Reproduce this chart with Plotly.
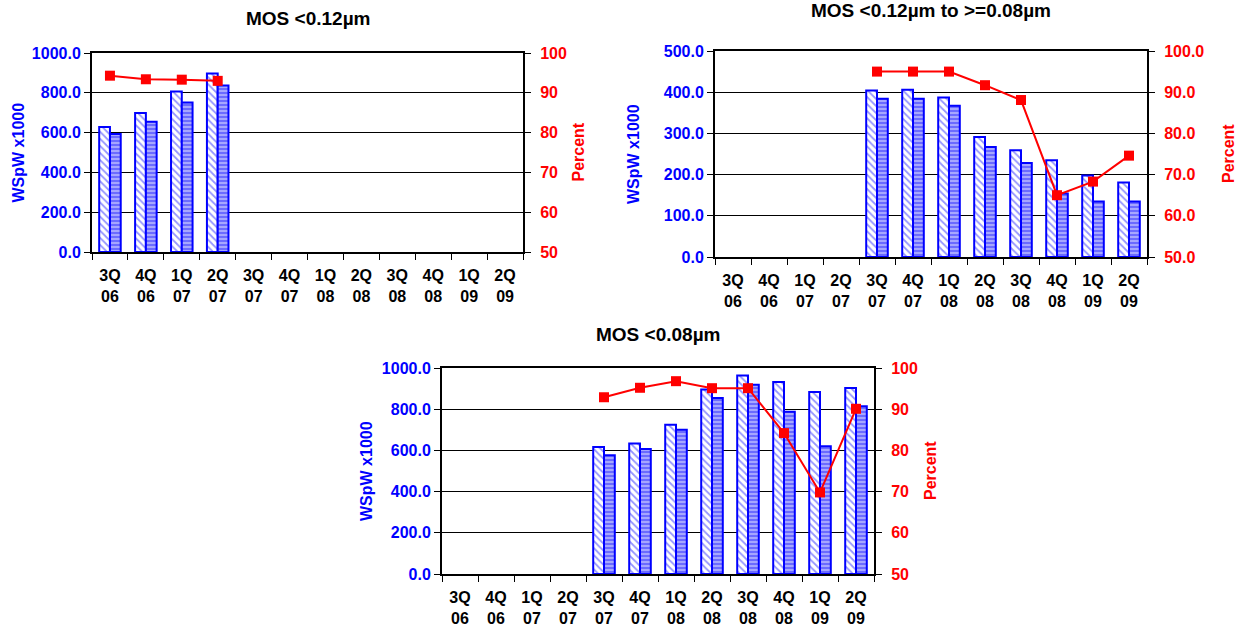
import plotly.graph_objects as go

W, H = 1243, 627

categories = ["3Q<br>06", "4Q<br>06", "1Q<br>07", "2Q<br>07", "3Q<br>07", "4Q<br>07",
              "1Q<br>08", "2Q<br>08", "3Q<br>08", "4Q<br>08", "1Q<br>09", "2Q<br>09"]

# Chart 1: MOS <0.12um
c1_capacity = [628, 699, 807, 897, None, None, None, None, None, None, None, None]
c1_starts = [593, 654, 751, 837, None, None, None, None, None, None, None, None]
c1_util = [94.3, 93.4, 93.3, 93.0, None, None, None, None, None, None, None, None]

# Chart 2: MOS <0.12um to >=0.08um
c2_capacity = [None, None, None, None, 404, 406, 387, 291, 259, 235, 198, 181]
c2_starts = [None, None, None, None, 384, 384, 367, 267, 228, 154, 135, 135]
c2_util = [None, None, None, None, 95.0, 95.0, 95.0, 91.7, 88.1, 65.0, 68.3, 74.6]

# Chart 3: MOS <0.08um
c3_capacity = [None, None, None, None, 616, 634, 725, 896, 964, 932, 884, 903]
c3_starts = [None, None, None, None, 576, 607, 700, 854, 919, 788, 620, 814]
c3_util = [None, None, None, None, 92.9, 95.2, 96.8, 95.1, 95.1, 84.2, 69.8, 90.1]

titles = ["MOS <0.12µm", "MOS <0.12µm to >=0.08µm", "MOS <0.08µm"]

FONT = "Liberation Sans, Arial, sans-serif"
BLUE = "#0000ff"
RED = "#ff0000"

# plot boxes in pixels: (left, right, top, bottom)
boxes = [(92, 523, 53, 252), (715, 1147, 51, 257), (442, 874, 368, 574)]
left_ranges = [(0, 1000, 200, ".1f"), (0, 500, 100, ".1f"), (0, 1000, 200, ".1f")]
right_fmt = ["d", ".1f", "d"]
title_y = [18, 10, 334]
ylab_x = [18, 633, 366]
plab_x = [578, 1228, 930]

data_sets = [(c1_capacity, c1_starts, c1_util),
             (c2_capacity, c2_starts, c2_util),
             (c3_capacity, c3_starts, c3_util)]

fig = go.Figure()
layout = dict(width=W, height=H, margin=dict(l=0, r=0, t=0, b=0, autoexpand=False),
              paper_bgcolor="white", plot_bgcolor="white", showlegend=False,
              barmode="group", bargap=0.4, bargroupgap=0.0,
              font=dict(family=FONT, size=16, color="black", weight="bold"),
              annotations=[])

for i, (cap, st, ut) in enumerate(data_sets):
    n = i + 1
    xa = "x" if n == 1 else f"x{n}"
    ya = f"y{2*n-1}" if n > 1 else "y"
    yb = f"y{2*n}"
    fig.add_trace(go.Bar(x=categories, y=cap, xaxis=xa, yaxis=ya, offsetgroup="a",
                         marker=dict(color="white", line=dict(color=BLUE, width=2),
                                     pattern=dict(shape="\\", fgcolor="#2a2aff", bgcolor="white",
                                                  size=5, solidity=0.35))))
    fig.add_trace(go.Bar(x=categories, y=st, xaxis=xa, yaxis=ya, offsetgroup="b",
                         marker=dict(color="#7f7fff", line=dict(color=BLUE, width=2),
                                     pattern=dict(shape="-", fgcolor="white", bgcolor="#6b6bff",
                                                  size=4, solidity=0.4))))
    fig.add_trace(go.Scatter(x=categories, y=ut, xaxis=xa, yaxis=yb, mode="lines+markers",
                             line=dict(color=RED, width=2),
                             marker=dict(symbol="square", size=10, color=RED),
                             connectgaps=False))
    l, r, t, b = boxes[i]
    lo, hi, dt, fmt = left_ranges[i]
    xkey = "xaxis" if n == 1 else f"xaxis{n}"
    ykey = "yaxis" if n == 1 else f"yaxis{2*n-1}"
    ykey2 = f"yaxis{2*n}"
    layout[xkey] = dict(domain=[l / W, r / W], anchor=ya, type="category",
                        range=[-0.5, len(categories) - 0.5],
                        showline=True, linecolor="black", linewidth=2, mirror=True,
                        ticks="outside", tickson="boundaries", ticklen=6, tickcolor="black",
                        tickwidth=1, showgrid=False, ticklabelstandoff=8,
                        tickfont=dict(family=FONT, size=16, color="black", weight="bold"))
    layout[ykey] = dict(domain=[1 - b / H, 1 - t / H], anchor=xa, range=[lo, hi], dtick=dt,
                        tickformat=fmt, showline=True, linecolor="black", linewidth=2,
                        ticks="outside", ticklen=6, tickcolor="black",
                        showgrid=True, gridcolor="black", gridwidth=1, zeroline=False,
                        tickfont=dict(family=FONT, size=16, color=BLUE, weight="bold"))
    layout[ykey2] = dict(overlaying=ya, side="right", anchor=xa, range=[50, 100], dtick=10,
                         tickformat=right_fmt[i], showline=True, linecolor="black", linewidth=2,
                         ticks="outside", ticklen=6, tickcolor="black", showgrid=False,
                         zeroline=False, ticklabelstandoff=6,
                         tickfont=dict(family=FONT, size=16, color=RED, weight="bold"))
    cx = (l + r) / 2
    cy = (t + b) / 2
    layout["annotations"].append(dict(text=titles[i], x=cx / W, y=1 - title_y[i] / H,
                                      xref="paper", yref="paper", showarrow=False,
                                      xanchor="center", yanchor="middle",
                                      font=dict(family=FONT, size=19, color="black", weight="bold")))
    layout["annotations"].append(dict(text="WSpW x1000", x=ylab_x[i] / W, y=1 - cy / H,
                                      xref="paper", yref="paper", showarrow=False, textangle=-90,
                                      xanchor="center", yanchor="middle",
                                      font=dict(family=FONT, size=16, color=BLUE, weight="bold")))
    layout["annotations"].append(dict(text="Percent", x=plab_x[i] / W, y=1 - cy / H,
                                      xref="paper", yref="paper", showarrow=False, textangle=-90,
                                      xanchor="center", yanchor="middle",
                                      font=dict(family=FONT, size=16, color=RED, weight="bold")))

fig.update_layout(**layout)
fig.write_html("out.html", config={"displayModeBar": False},
               post_script="document.body.style.margin='0px';document.body.style.overflow='hidden';")
